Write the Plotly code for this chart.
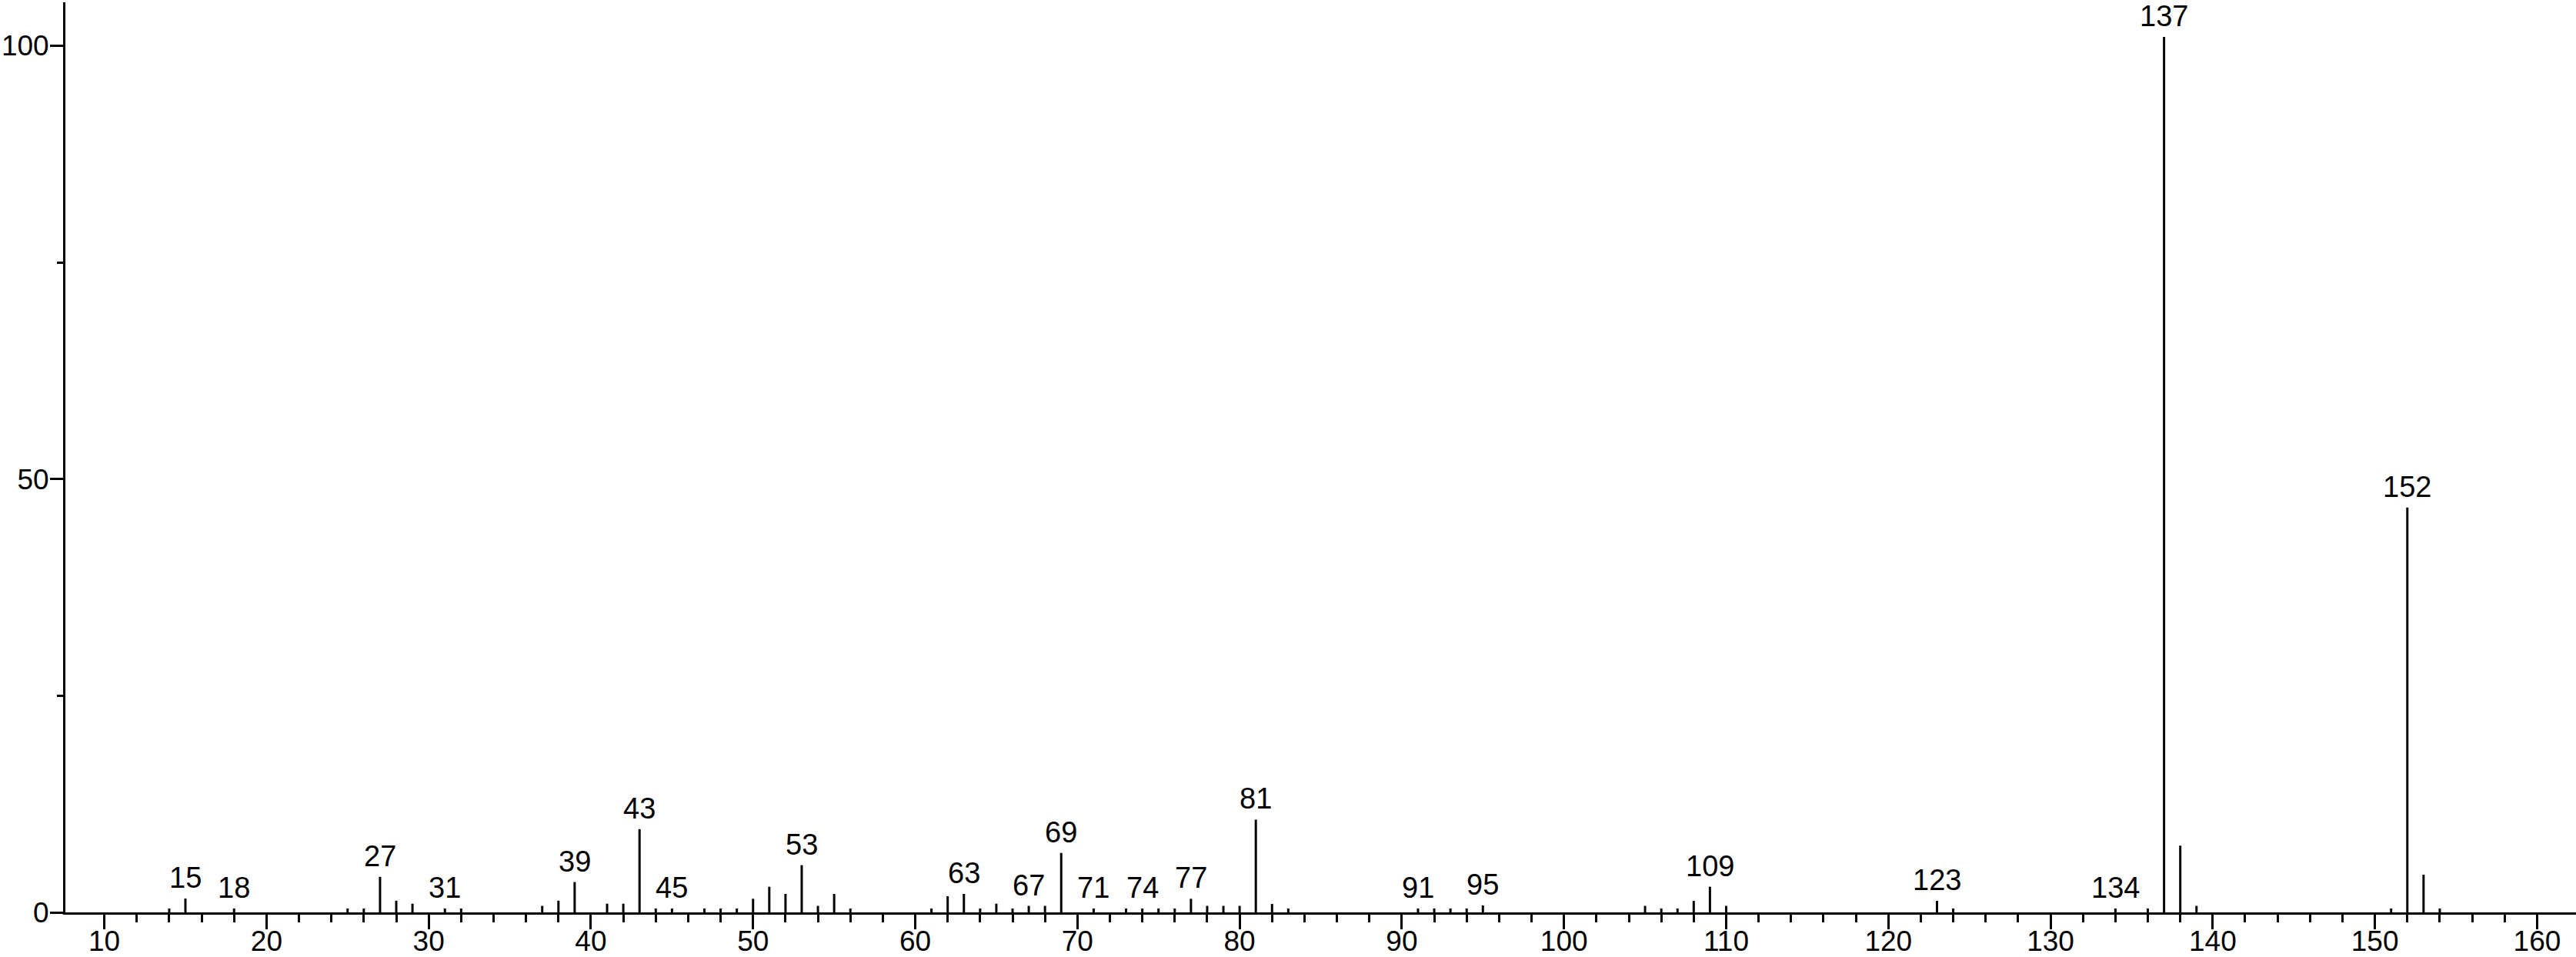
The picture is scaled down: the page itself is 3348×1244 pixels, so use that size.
import plotly.graph_objects as go

# m/z values and relative intensities (%)
mz = [14, 15, 18, 25, 26, 27, 28, 29, 31, 32,
      37, 38, 39, 41, 42, 43, 44, 45, 47, 48, 49,
      50, 51, 52, 53, 54, 55, 56,
      61, 62, 63, 64, 65, 66, 67, 68, 69,
      71, 73, 74, 75, 76, 77, 78, 79, 80, 81, 82, 83,
      91, 92, 93, 94, 95,
      105, 106, 107, 108, 109, 110,
      123, 124, 134, 136, 137, 138, 139,
      151, 152, 153, 154]
intensity = [0.45, 1.6, 0.45, 0.45, 0.45, 4.1, 1.35, 1.0, 0.45, 0.45,
             0.75, 1.35, 3.5, 1.0, 1.0, 9.6, 0.45, 0.45, 0.45, 0.45, 0.45,
             1.57, 2.96, 2.13, 5.45, 0.75, 2.13, 0.45,
             0.45, 1.86, 2.13, 0.45, 1.0, 0.45, 0.75, 0.75, 6.86,
             0.45, 0.45, 0.45, 0.45, 0.45, 1.57, 0.75, 0.75, 0.75, 10.7, 0.98, 0.45,
             0.45, 0.45, 0.45, 0.45, 0.8,
             0.75, 0.45, 0.45, 1.33, 2.96, 0.75,
             1.33, 0.45, 0.45, 0.45, 101.0, 7.7, 0.75,
             0.45, 46.7, 4.35, 0.45]

labeled_mz = [15, 18, 27, 31, 39, 43, 45, 53, 63, 67, 69, 71, 74, 77,
              81, 91, 95, 109, 123, 134, 137, 152]

x_major_ticks = [10, 20, 30, 40, 50, 60, 70, 80, 90, 100, 110, 120, 130, 140, 150, 160]
x_major_labels = [str(v) for v in x_major_ticks]
x_minor_ticks = [v for v in range(12, 160, 2) if v % 10 != 0]
y_major_ticks = [0, 50, 100]
y_major_labels = ["0", "50", "100"]
y_minor_ticks = [25, 75]

FONT = "Liberation Sans, Arial, sans-serif"
FSIZE = 38

xs, ys = [], []
for m, h in zip(mz, intensity):
    xs += [m, m, None]
    ys += [0, h, None]

fig = go.Figure()
fig.add_trace(go.Scatter(x=xs, y=ys, mode="lines",
                         line=dict(color="black", width=3),
                         hoverinfo="skip", showlegend=False))

lookup = dict(zip(mz, intensity))
for m in labeled_mz:
    fig.add_annotation(x=m, y=lookup[m], text=str(m), showarrow=False,
                       xanchor="center", yanchor="bottom", yshift=5,
                       borderpad=0,
                       font=dict(family=FONT, size=FSIZE, color="black"))

fig.update_layout(
    width=3348, height=1244,
    margin=dict(l=85, r=0, t=3, b=58, autoexpand=False),
    paper_bgcolor="white", plot_bgcolor="white",
    font=dict(family=FONT, size=FSIZE, color="black"),
    showlegend=False,
)
fig.update_xaxes(
    range=[7.6, 162.4], showgrid=False, zeroline=False, automargin=False,
    showline=True, linecolor="black", linewidth=3,
    tickmode="array", tickvals=x_major_ticks, ticktext=x_major_labels,
    ticks="outside", ticklen=19, tickwidth=3, tickcolor="black",
    ticklabelstandoff=-16,
    tickfont=dict(family=FONT, size=37, color="black"),
    minor=dict(tickmode="array", tickvals=x_minor_ticks, ticks="outside",
               ticklen=10, tickwidth=3, tickcolor="black", showgrid=False),
)
fig.update_yaxes(
    range=[0, 105], showgrid=False, zeroline=False, automargin=False,
    showline=True, linecolor="black", linewidth=3,
    tickmode="array", tickvals=y_major_ticks, ticktext=y_major_labels,
    ticks="outside", ticklen=17, tickwidth=3, tickcolor="black",
    ticklabelstandoff=-6,
    tickfont=dict(family=FONT, size=37, color="black"),
    minor=dict(tickmode="array", tickvals=y_minor_ticks, ticks="outside",
               ticklen=8, tickwidth=3, tickcolor="black", showgrid=False),
)

fig.write_html("out.html",
               config={"displayModeBar": False},
               post_script="document.body.style.margin='0';"
                           "document.body.style.overflow='hidden';")
